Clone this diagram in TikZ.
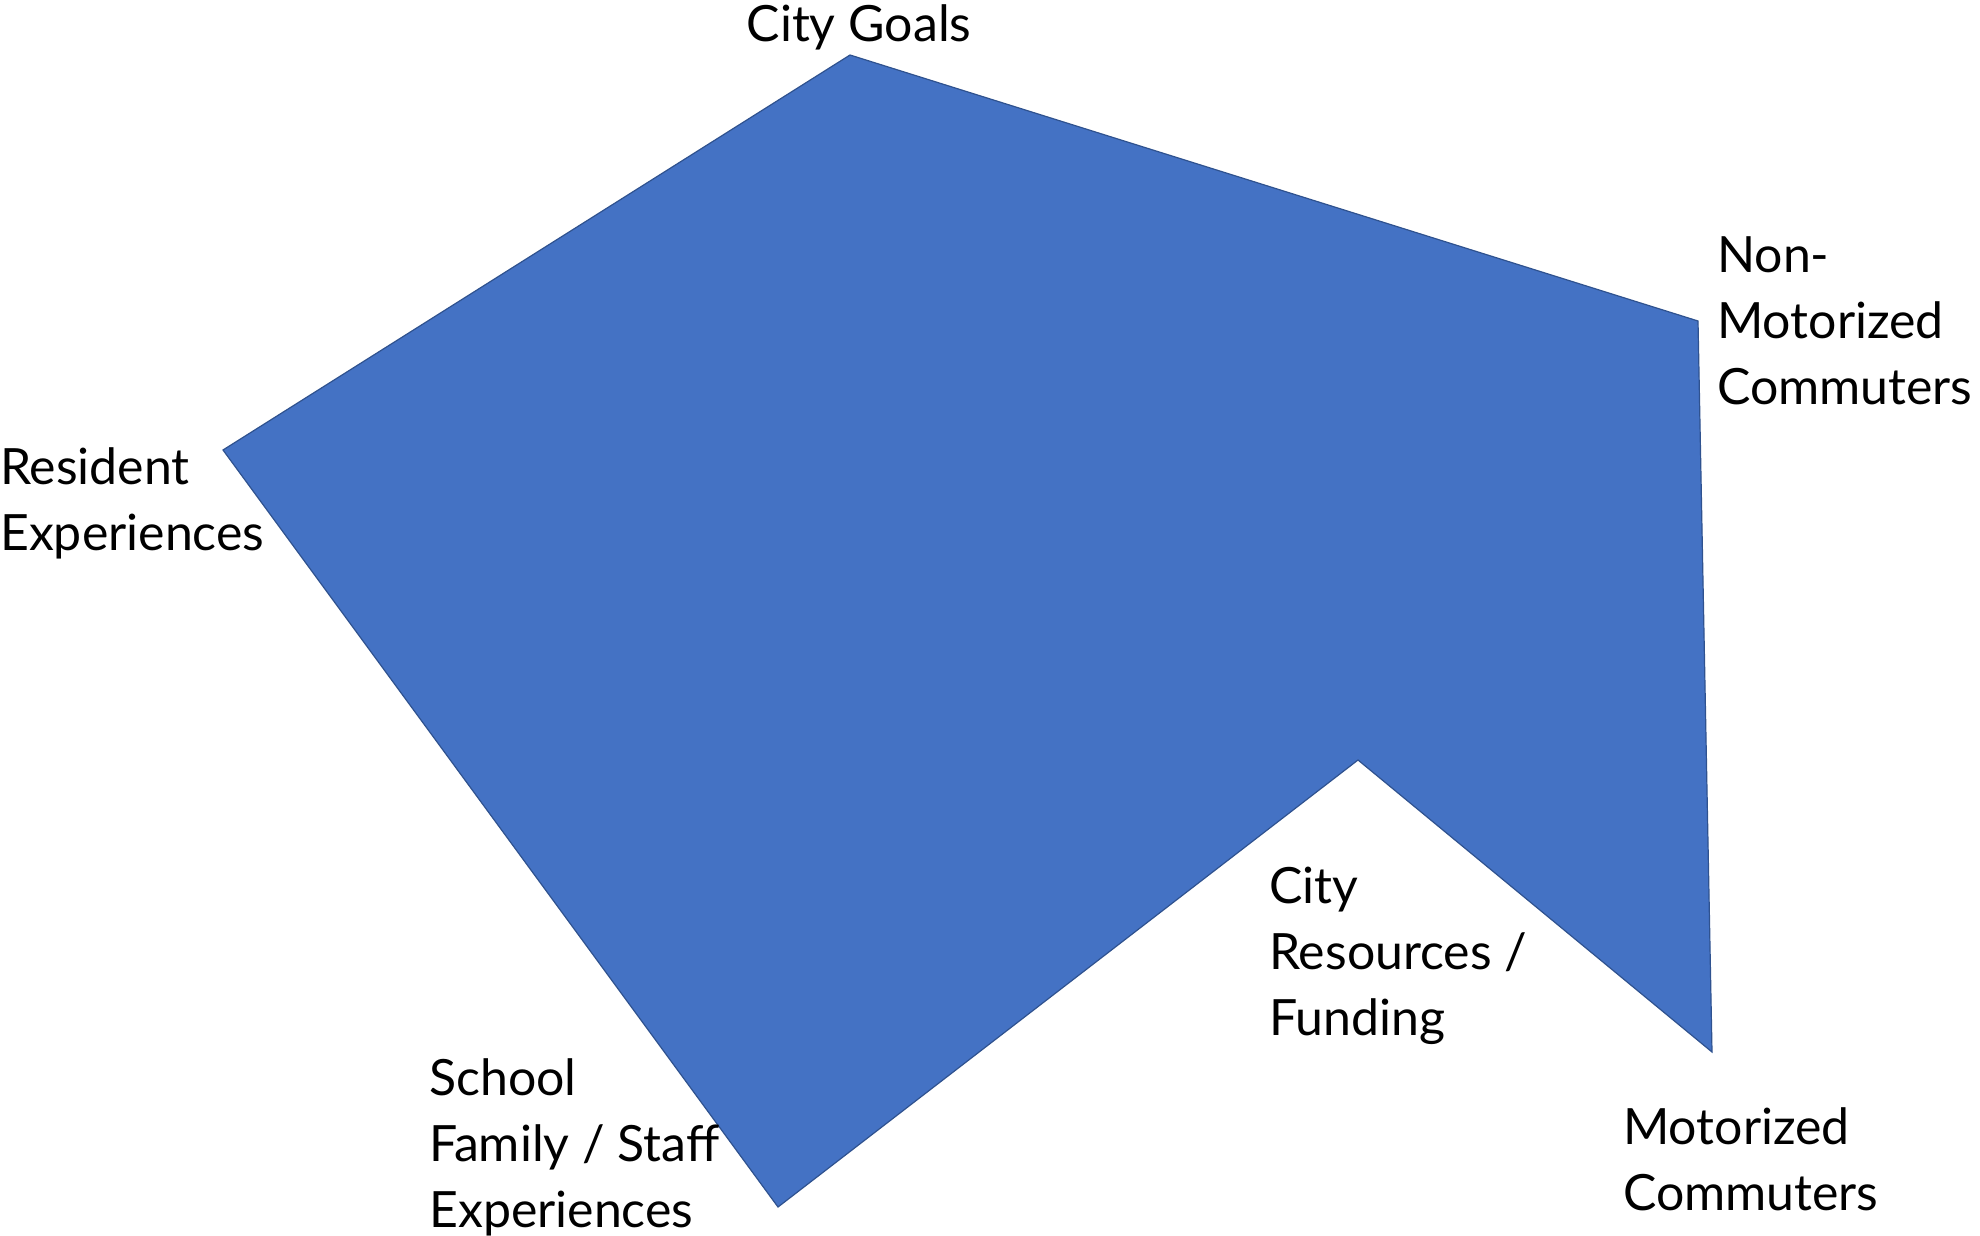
\documentclass[tikz,border=0pt]{standalone}
\usepackage{fontspec}
\setmainfont{Lato}
\definecolor{shapeblue}{HTML}{4472C4}
\definecolor{edgeblue}{HTML}{2F528F}
\begin{document}
\begin{tikzpicture}[x=1pt,y=-1pt,
		lbl/.style={inner sep=0pt,align=left,anchor=base west,font=\fontsize{50}{66}\selectfont}]
				\useasboundingbox (0,0) rectangle (1980,1236);
				% corners of the shape
				\coordinate (goals) at (850,55);
				\coordinate (nonmot) at (1698,321);
				\coordinate (mot) at (1712,1052);
				\coordinate (res) at (1358,760);
				\coordinate (school) at (778,1207);
				\coordinate (resident) at (223,450);
				\filldraw[fill=shapeblue,draw=edgeblue,line width=1.2pt,line join=miter]
					(goals)--(nonmot)--(mot)--(res)--(school)--(resident)--cycle;
				% labels (base = baseline of the last line)
				\node[lbl,anchor=base] (goalslbl) at (859,42) {City Goals};
				\node[lbl] (nonmotlbl) at (1717,404) {Non-\\Motorized\\Commuters};
				\node[lbl] (residentlbl) at (0,550) {Resident\\Experiences};
				\node[lbl] (schoollbl) at (429,1227) {School\\Family / Staff\\Experiences};
				\node[lbl] (reslbl) at (1269,1035) {City\\Resources /\\Funding};
				\node[lbl] (motlbl) at (1623,1210) {Motorized\\Commuters};
		\end{tikzpicture}
\end{document}
